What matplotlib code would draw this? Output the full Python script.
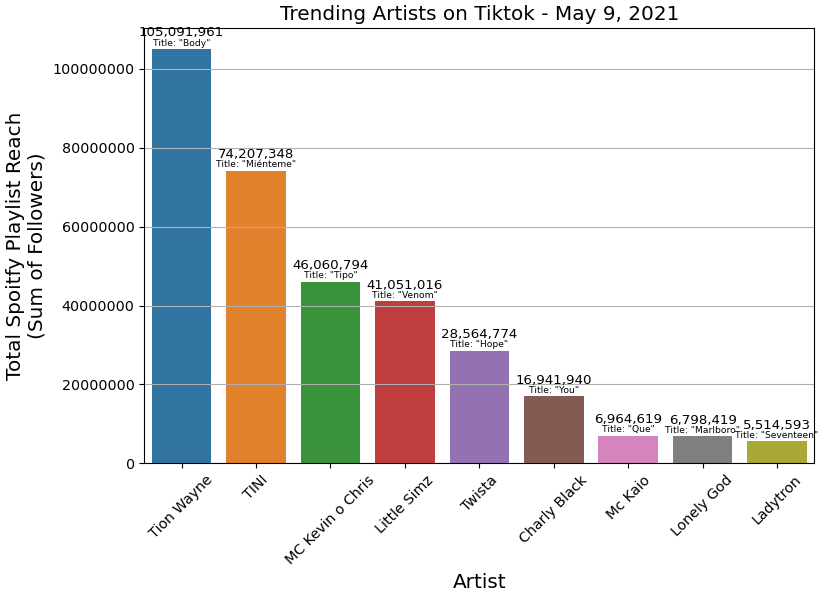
import matplotlib
matplotlib.use("Agg")
import matplotlib.pyplot as plt
import seaborn as sns
import pandas as pd

artists = ["Tion Wayne", "TINI", "MC Kevin o Chris", "Little Simz", "Twista",
           "Charly Black", "Mc Kaio", "Lonely God", "Ladytron"]
reach = [105091961, 74207348, 46060794, 41051016, 28564774,
         16941940, 6964619, 6798419, 5514593]
titles = ["Body", "Miénteme", "Tipo", "Venom", "Hope",
          "You", "Que", "Marlboro", "Seventeen"]

df = pd.DataFrame({"Artist": artists, "Reach": reach, "Title": titles})

fig, ax = plt.subplots(figsize=(8.25, 6), dpi=100)
fig.subplots_adjust(left=0.175, right=0.987, top=0.953, bottom=0.228)
sns.barplot(data=df, x="Artist", y="Reach", hue="Artist", palette="tab10",
            legend=False, ax=ax)
ax.grid(axis="y")
ax.ticklabel_format(axis="y", style="plain")

for i, (v, t) in enumerate(zip(reach, titles)):
    ax.annotate(f'Title: "{t}"', (i, v), xytext=(0, 1), textcoords="offset points",
                ha="center", va="bottom", fontsize=6.6)
    ax.annotate(f"{v:,}", (i, v), xytext=(0, 7), textcoords="offset points",
                ha="center", va="bottom", fontsize=9.6)

ax.set_title("Trending Artists on Tiktok - May 9, 2021", fontsize=14.4)
ax.set_xlabel("Artist", fontsize=14.4)
ax.set_ylabel("Total Spoitfy Playlist Reach\n(Sum of Followers)", fontsize=14.4)
ax.tick_params(axis="x", labelrotation=45, labelsize=10.3)
ax.tick_params(axis="y", labelsize=10.3)
for lbl in ax.get_xticklabels():
    lbl.set_ha("center")

fig.savefig("out.png", dpi=100)
